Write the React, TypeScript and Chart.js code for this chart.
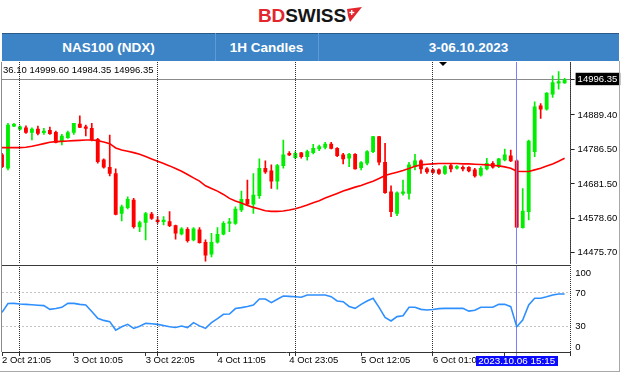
import React, { useEffect, useRef } from 'react';
import { Chart, registerables } from 'chart.js';

Chart.register(...registerables);

const FONT = '"Liberation Sans", Arial, Helvetica, sans-serif';

// ---------------- data (1H candles NAS100) ----------------
const opens = [
  14769, 14729, 14856, 14847, 14851, 14837, 14847, 14836, 14843, 14837,
  14811, 14821, 14837, 14862, 14854, 14849, 14816, 14754, 14732, 14713,
  14593, 14610, 14633, 14552, 14566, 14591, 14570, 14568, 14568, 14556,
  14531, 14545, 14513, 14543, 14506, 14470, 14506, 14530, 14563, 14563,
  14603, 14635, 14621, 14646, 14729, 14721, 14690, 14737, 14773, 14761,
  14775, 14764, 14776, 14787, 14792, 14802, 14789, 14769, 14759, 14771,
  14731, 14744, 14779, 14824, 14747, 14658, 14593, 14653, 14653, 14734,
  14751, 14727, 14724, 14724, 14713, 14737, 14729, 14731, 14732, 14724,
  14708, 14727, 14744, 14734, 14754, 14766, 14751, 14550, 14598, 14779,
  14917, 14907, 14952, 14985, 14986.1,
];
const highs = [
  14774, 14864, 14864, 14857, 14857, 14851, 14856, 14849, 14853, 14841,
  14831, 14841, 14864, 14887, 14859, 14864, 14819, 14757, 14829, 14727,
  14618, 14643, 14638, 14570, 14596, 14596, 14583, 14583, 14598, 14558,
  14550, 14550, 14550, 14550, 14513, 14533, 14550, 14568, 14578, 14613,
  14660, 14693, 14713, 14757, 14751, 14739, 14741, 14814, 14779, 14779,
  14777, 14784, 14801, 14799, 14807, 14807, 14791, 14774, 14774, 14773,
  14749, 14782, 14825, 14825, 14804, 14676, 14658, 14693, 14747, 14771,
  14754, 14731, 14727, 14727, 14737, 14744, 14737, 14736, 14734, 14729,
  14734, 14759, 14749, 14759, 14787, 14784, 14754, 14668, 14814, 14929,
  14924, 14957, 15007, 15020, 14999.6,
];
const lows = [
  14731, 14724, 14854, 14844, 14834, 14814, 14829, 14831, 14831, 14805,
  14799, 14819, 14831, 14851, 14826, 14811, 14744, 14729, 14706, 14588,
  14570, 14606, 14548, 14538, 14513, 14575, 14563, 14558, 14553, 14515,
  14528, 14506, 14510, 14503, 14449, 14462, 14503, 14528, 14538, 14560,
  14598, 14618, 14593, 14638, 14713, 14668, 14666, 14729, 14767, 14757,
  14759, 14753, 14772, 14782, 14787, 14787, 14764, 14742, 14734, 14726,
  14724, 14739, 14776, 14739, 14653, 14583, 14586, 14648, 14636, 14724,
  14713, 14713, 14713, 14710, 14710, 14718, 14726, 14721, 14718, 14702,
  14705, 14724, 14729, 14731, 14751, 14749, 14550, 14548, 14573, 14764,
  14879, 14904, 14942, 14967, 14984.35,
];
const closes = [
  14734, 14859, 14861, 14854, 14837, 14847, 14834, 14841, 14833, 14807,
  14826, 14836, 14864, 14852, 14849, 14814, 14749, 14732, 14713, 14590,
  14613, 14635, 14553, 14565, 14592, 14578, 14568, 14570, 14556, 14533,
  14546, 14511, 14546, 14505, 14467, 14506, 14530, 14563, 14565, 14606,
  14635, 14621, 14648, 14729, 14718, 14690, 14737, 14769, 14769, 14774,
  14764, 14779, 14789, 14794, 14802, 14789, 14767, 14757, 14771, 14727,
  14746, 14779, 14824, 14747, 14655, 14598, 14655, 14656, 14739, 14751,
  14727, 14718, 14716, 14713, 14734, 14727, 14734, 14727, 14721, 14706,
  14729, 14744, 14732, 14757, 14769, 14751, 14551, 14600, 14811, 14914,
  14907, 14955, 14987, 14990, 14996.35,
];
const maValues = [
  14791, 14791, 14791, 14791, 14792, 14795, 14799, 14803, 14807, 14809,
  14810, 14811, 14812, 14813, 14814, 14814, 14812, 14808, 14803, 14790,
  14784, 14780, 14776, 14771, 14764, 14757, 14750, 14743, 14736, 14728,
  14720, 14710, 14700, 14690, 14676, 14668, 14660, 14650, 14638, 14630,
  14624, 14617, 14611, 14606, 14601, 14599, 14599, 14600, 14603, 14607,
  14612, 14618, 14625, 14631, 14639, 14646, 14653, 14660, 14666, 14672,
  14677, 14684, 14690, 14698, 14707, 14712, 14717, 14722, 14728, 14735,
  14739, 14741, 14742, 14743, 14743, 14743, 14743, 14742, 14742, 14741,
  14740, 14739, 14738, 14736, 14733, 14729, 14720, 14719, 14719, 14724,
  14729, 14736, 14742, 14750, 14759,
];
const rsiValues = [
  47, 57.5, 57.7, 57, 56.5, 56, 55.5, 55, 50.6, 51.5,
  53, 57.7, 57.7, 56.5, 55.8, 48, 40, 37.5, 36, 26,
  30, 32.8, 28, 30.5, 34, 33.5, 32.8, 31.5, 30, 29,
  30.8, 28.9, 34.8, 31, 28, 34.8, 39.5, 44.7, 45, 51.5,
  52.6, 54, 55.8, 62.9, 62.9, 58.5, 62.5, 66.4, 66, 65.6,
  64.9, 67.6, 67.6, 67.6, 67.6, 65.6, 60.5, 59.7, 54, 51.8,
  56.5, 60.5, 63.7, 53, 41.1, 36.8, 42, 43.1, 53, 53,
  50.6, 49.8, 50.5, 51.5, 51.8, 51.8, 51.8, 51.8, 48.5, 49.5,
  53, 53, 53, 56.5, 56.5, 53.8, 30, 38, 55.8, 63.7,
  63.7, 65.5, 67.6, 68.8, 68.8,
];

const priceTicks = [14996.35, 14889.4, 14786.5, 14681.5, 14578.6, 14475.7];
const lastPrice = 14996.35;
const priceMin = 14440.4;
const priceMax = 15049;

const rsiTickLabels = ['100', '70', '30', '0'];
const rsiTickAt = [93.7, 70, 30, 5.6];
const rsiLevels = [70, 30];
const rsiMin = 0;
const rsiMax = 103.2;

const timeTickBars = [0, 12, 24, 36, 48, 60, 72, 84];
const timeTickLabels = [
  '2 Oct 21:05', '3 Oct 10:05', '3 Oct 22:05', '4 Oct 11:05',
  '4 Oct 23:05', '5 Oct 12:05', '6 Oct 01:05', '6 Oct 13:05',
];
const daySeparatorBars = [3, 26, 49, 72, 95];
const markerBar = 86;
const markerLabel = '2023.10.06 15:15';
const infoText = '36.10 14999.60 14984.35 14996.35';

const barSlots = opens.length + 1;
const categories = Array.from({ length: barSlots }, (_, i) => String(i));

// ---------------- styles ----------------
const GREEN = '#00ee00';
const RED = '#ff0000';
const SEP_COLOR = '#2e2e2e';
const MARKER_COLOR = '#7d7dff';
const AXIS_W = 53.4;

const vGridColor = (ctx: any) =>
  ctx.index === markerBar ? MARKER_COLOR : daySeparatorBars.includes(ctx.index) ? SEP_COLOR : 'rgba(0,0,0,0)';
const vGridDash = (ctx: any) => (ctx.type === 'tick' && ctx.index !== markerBar ? [1, 1] : []);

export default function App() {
  const mainRef = useRef<HTMLCanvasElement>(null);
  const rsiRef = useRef<HTMLCanvasElement>(null);

  useEffect(() => {
    Chart.defaults.font.family = FONT;
    Chart.defaults.font.size = 9.5;
    Chart.defaults.color = '#000';

    const candleColors = opens.map((o, i) => (closes[i] >= o ? GREEN : RED));
    const bodies = opens.map((o, i) => [o, closes[i]]);
    const wicks = lows.map((l, i) => [l, highs[i]]);

    const main = new Chart(mainRef.current as HTMLCanvasElement, {
      type: 'bar',
      data: {
        labels: categories,
        datasets: [
          {
            type: 'line',
            data: maValues,
            borderColor: RED,
            borderWidth: 1.6,
            pointRadius: 0,
            order: 0,
          } as any,
          {
            type: 'bar',
            data: bodies,
            backgroundColor: candleColors,
            barThickness: 3.2,
            grouped: false,
            minBarLength: 1.5,
            borderWidth: 0,
            order: 1,
          } as any,
          {
            type: 'bar',
            data: wicks,
            backgroundColor: candleColors,
            barThickness: 1,
            grouped: false,
            borderWidth: 0,
            order: 2,
          } as any,
        ],
      },
      options: {
        animation: false,
        responsive: false,
        maintainAspectRatio: false,
        events: [],
        layout: { padding: { left: 2, right: 0, top: 0, bottom: 0 } },
        plugins: { legend: { display: false }, tooltip: { enabled: false } },
        scales: {
          x: {
            type: 'category',
            offset: false,
            grid: { offset: false, drawTicks: false, z: 1, color: vGridColor, lineWidth: 1 },
            border: { display: false, dash: vGridDash },
            ticks: { display: false, autoSkip: false, maxRotation: 0, minRotation: 0 },
            afterFit: (s: any) => { s.paddingLeft = 0; s.paddingRight = 0; },
          },
          y: {
            position: 'right',
            min: priceMin,
            max: priceMax,
            afterBuildTicks: (s: any) => { s.ticks = priceTicks.map((v) => ({ value: v })); },
            afterFit: (s: any) => { s.width = AXIS_W; s.paddingTop = 0; s.paddingBottom = 0; },
            grid: {
              color: (ctx: any) => (ctx.tick && ctx.tick.value === lastPrice ? '#8a8a8a' : 'rgba(0,0,0,0)'),
              drawTicks: true,
              tickLength: 4,
              tickColor: '#222',
            },
            border: { display: true, color: '#555', width: 1 },
            ticks: {
              padding: 3,
              font: { size: 9.5, family: FONT },
              color: (ctx: any) => (ctx.tick && ctx.tick.value === lastPrice ? '#fff' : '#000'),
              showLabelBackdrop: (ctx: any) => !!(ctx.tick && ctx.tick.value === lastPrice),
              backdropColor: '#000',
              backdropPadding: { top: 1, bottom: 0, left: 2, right: 3 },
              callback: (v: any) => Number(v).toFixed(2),
            },
          },
        },
      } as any,
    });

    const rsiChart = new Chart(rsiRef.current as HTMLCanvasElement, {
      type: 'line',
      data: {
        labels: categories,
        datasets: [
          {
            data: rsiValues,
            borderColor: '#2e8fff',
            borderWidth: 1.6,
            pointRadius: 0,
          },
        ],
      },
      options: {
        animation: false,
        responsive: false,
        maintainAspectRatio: false,
        events: [],
        layout: { padding: { left: 2, right: 0, top: 0, bottom: 0 } },
        plugins: { legend: { display: false }, tooltip: { enabled: false } },
        scales: {
          x: {
            type: 'category',
            offset: false,
            grid: {
              offset: false,
              drawTicks: true,
              tickLength: 4,
              color: vGridColor,
              tickColor: (ctx: any) => (timeTickBars.includes(ctx.index) ? '#333' : vGridColor(ctx)),
              lineWidth: 1,
            },
            border: { display: true, color: '#333', width: 1, dash: vGridDash },
            ticks: {
              autoSkip: false,
              maxRotation: 0,
              minRotation: 0,
              align: 'start',
              padding: -1,
              font: { size: 9.5, family: FONT },
              color: '#000',
              callback: (_v: any, idx: number) => {
                const k = timeTickBars.indexOf(idx);
                return k >= 0 ? timeTickLabels[k] : '';
              },
            },
            afterFit: (s: any) => { s.height = 19; s.paddingLeft = 0; s.paddingRight = 0; },
          },
          y: {
            position: 'right',
            min: rsiMin,
            max: rsiMax,
            afterBuildTicks: (s: any) => { s.ticks = rsiTickAt.map((v) => ({ value: v })); },
            afterFit: (s: any) => { s.width = AXIS_W; s.paddingTop = 0; s.paddingBottom = 0; },
            grid: {
              drawTicks: false,
              color: (ctx: any) => (ctx.tick && rsiLevels.includes(ctx.tick.value) ? '#c4c4c4' : 'rgba(0,0,0,0)'),
            },
            border: { display: false, dash: (ctx: any) => (ctx.type === 'tick' ? [2, 2] : []) },
            ticks: {
              padding: 4.7,
              font: { size: 9.5, family: FONT },
              color: '#000',
              callback: (_v: any, idx: number) => rsiTickLabels[idx],
            },
          },
        },
      } as any,
    });

    return () => {
      main.destroy();
      rsiChart.destroy();
    };
  }, []);

  const abs = (s: React.CSSProperties): React.CSSProperties => ({ position: 'absolute', ...s });

  return (
    <div style={abs({ left: 0, top: 0, width: 624, height: 376, background: '#fff', overflow: 'hidden', fontFamily: FONT })}>
      {/* logo */}
      <div style={abs({ left: 258, top: 6, height: 19, lineHeight: '19px', fontSize: 19, fontWeight: 700, whiteSpace: 'nowrap', letterSpacing: -0.1 })}>
        <span style={{ color: '#e3262d' }}>BD</span>
        <span style={{ color: '#151515' }}>SWISS</span>
      </div>
      <svg style={abs({ left: 346, top: 7 })} width={17} height={16} viewBox="0 0 17 16">
        <polygon points="1,2 16,0 4,15 2,9" fill="#e3262d" />
        <rect x={5} y={3} width={1.4} height={5} fill="#fff" />
        <rect x={3.3} y={4.8} width={5} height={1.4} fill="#fff" />
      </svg>

      {/* header bar */}
      <div style={abs({ left: 2, top: 33, width: 617, height: 28, background: '#3d84c6', borderTop: '1px solid #2b5a88', boxSizing: 'border-box' })} />
      <div style={abs({ left: 215, top: 33, width: 1, height: 28, background: '#5c9bd8' })} />
      <div style={abs({ left: 318, top: 33, width: 1, height: 28, background: '#5c9bd8' })} />
      {[
        { l: 2, w: 213, t: 'NAS100 (NDX)' },
        { l: 215, w: 103, t: '1H Candles' },
        { l: 318, w: 301, t: '3-06.10.2023' },
      ].map((c) => (
        <div
          key={c.t}
          style={abs({ left: c.l, top: 34, width: c.w, height: 27, display: 'flex', alignItems: 'center', justifyContent: 'center', color: '#fff', fontWeight: 700, fontSize: 13.5, whiteSpace: 'nowrap' })}
        >
          {c.t}
        </div>
      ))}

      {/* charts */}
      <canvas ref={mainRef} width={624} height={202} style={abs({ left: 0, top: 62, width: 624, height: 202 })} />
      <canvas ref={rsiRef} width={624} height={106} style={abs({ left: 0, top: 265, width: 624, height: 106 })} />

      {/* panel frames */}
      <div style={abs({ left: 1, top: 265, width: 570, height: 1, background: '#3a3a3a' })} />
      <div style={abs({ left: 1, top: 62, width: 1, height: 290, background: '#8a8a8a' })} />
      <div style={abs({ left: 619, top: 61, width: 1, height: 311, background: '#a8a8a8' })} />
      <div style={abs({ left: 0, top: 371, width: 620, height: 1, background: '#a8a8a8' })} />

      {/* info line and shift marker */}
      <div style={abs({ left: 3, top: 63.5, fontSize: 9.5, lineHeight: '11px', color: '#000', whiteSpace: 'nowrap' })}>{infoText}</div>
      <div style={abs({ left: 439, top: 62, width: 0, height: 0, borderLeft: '4px solid transparent', borderRight: '4px solid transparent', borderTop: '4px solid #000' })} />

      {/* crosshair date label */}
      <div style={abs({ left: 475.5, top: 355.5, width: 82.5, height: 10.5, background: '#0a0aff', color: '#fff', fontSize: 9.9, lineHeight: '10.5px', textAlign: 'center', whiteSpace: 'nowrap' })}>
        {markerLabel}
      </div>
    </div>
  );
}
